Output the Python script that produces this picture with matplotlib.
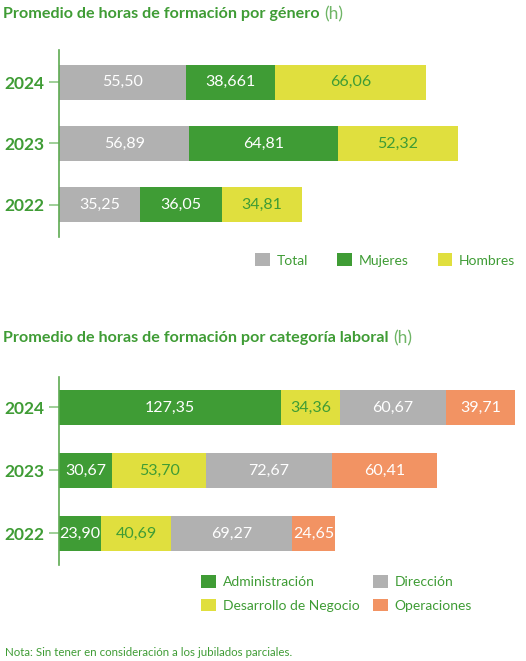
import matplotlib.pyplot as plt

plt.rcParams["font.family"] = ["Lato", "DejaVu Sans"]

# ---------- datos ----------
years = ["2022", "2023", "2024"]

genero_series = ["Total", "Mujeres", "Hombres"]
total = [35.25, 56.89, 55.50]
mujeres = [36.05, 64.81, 38.661]
hombres = [34.81, 52.32, 66.06]
total_lbl = ["35,25", "56,89", "55,50"]
mujeres_lbl = ["36,05", "64,81", "38,661"]
hombres_lbl = ["34,81", "52,32", "66,06"]

cat_series = ["Administración", "Desarrollo de Negocio", "Dirección", "Operaciones"]
administracion = [23.90, 30.67, 127.35]
desarrollo = [40.69, 53.70, 34.36]
direccion = [69.27, 72.67, 60.67]
operaciones = [24.65, 60.41, 39.71]
administracion_lbl = ["23,90", "30,67", "127,35"]
desarrollo_lbl = ["40,69", "53,70", "34,36"]
direccion_lbl = ["69,27", "72,67", "60,67"]
operaciones_lbl = ["24,65", "60,41", "39,71"]

# ---------- estilo ----------
GREEN = "#3f9c35"
GRAY = "#b1b1b1"
YELLOW = "#e0df3e"
ORANGE = "#f29363"
TXT = "#3f9c35"
AXIS = "#5daa52"
TICK = "#8fc786"

W, H = 526, 661
fig = plt.figure(figsize=(W / 100, H / 100), dpi=100)


def px_axes(x0, y0, x1, y1):
    # caja en píxeles (origen arriba a la izquierda)
    return fig.add_axes([x0 / W, 1 - y1 / H, (x1 - x0) / W, (y1 - y0) / H])


def stacked(ax, series, colors, labels, txtcolors, height):
    pos = list(range(len(years)))
    left = [0] * len(years)
    handles = []
    for vals, col, lbls, tc in zip(series, colors, labels, txtcolors):
        bars = ax.barh(pos, vals, left=left, height=height, color=col,
                       edgecolor="none")
        handles.append(bars)
        for p, l, v, s in zip(pos, left, vals, lbls):
            ax.text(l + v / 2, p, s, ha="center", va="center",
                    color=tc, fontsize=11.5)
        left = [a + b for a, b in zip(left, vals)]
    ax.set_yticks(pos)
    ax.set_yticklabels(years, fontsize=12.5, color=TXT, fontweight="bold")
    ax.set_xticks([])
    for s in ["top", "right", "bottom"]:
        ax.spines[s].set_visible(False)
    ax.spines["left"].set_color(AXIS)
    ax.spines["left"].set_linewidth(1.2)
    ax.tick_params(axis="y", length=7.2, width=1.2, color=TICK, pad=3)
    return handles


# ---------- gráfico 1 ----------
ax1 = px_axes(59, 50, 526, 237)
h1 = stacked(ax1, [total, mujeres, hombres], [GRAY, GREEN, YELLOW],
             [total_lbl, mujeres_lbl, hombres_lbl], ["white", "white", TXT],
             35 / 61)
ax1.set_xlim(0, 467 / 2.29)
ax1.set_ylim(-0.525, 2.525)
ax1.legend(h1, genero_series, ncol=3, loc="center left",
           bbox_to_anchor=(255 / W, 1 - 260 / H), bbox_transform=fig.transFigure,
           frameon=False, fontsize=10, labelcolor=TXT, handlelength=1.05,
           handleheight=1.05, handletextpad=0.5, columnspacing=2.1,
           borderaxespad=0, borderpad=0)

# ---------- gráfico 2 ----------
ax2 = px_axes(59, 377, 526, 565)
h2 = stacked(ax2, [administracion, desarrollo, direccion, operaciones],
             [GREEN, YELLOW, GRAY, ORANGE],
             [administracion_lbl, desarrollo_lbl, direccion_lbl, operaciones_lbl],
             ["white", TXT, "white", "white"], 35 / 63)
ax2.set_xlim(0, 467 / 1.74)
ax2.set_ylim(-0.5, 2.484)
ax2.legend(h2, cat_series, ncol=2, loc="upper left",
           bbox_to_anchor=(201 / W, 1 - 575 / H), bbox_transform=fig.transFigure,
           frameon=False, fontsize=10, labelcolor=TXT, handlelength=1.05,
           handleheight=1.05, handletextpad=0.5, columnspacing=1.0,
           labelspacing=0.75, borderaxespad=0, borderpad=0)

# ---------- títulos y nota ----------
t1 = fig.text(3 / W, 1 - 14 / H, "Promedio de horas de formación por género",
              fontsize=11.65, fontweight="bold", color=TXT, va="center", ha="left")
t2 = fig.text(3 / W, 1 - 338 / H,
              "Promedio de horas de formación por categoría laboral",
              fontsize=11.65, fontweight="bold", color=TXT, va="center", ha="left")
fig.canvas.draw()
for t in (t1, t2):
    bb = t.get_window_extent()
    fig.text((bb.x1 + 5) / W, t.get_position()[1], "(h)", fontsize=12.5,
             color="#6fb566", va="center", ha="left")

fig.text(5 / W, 1 - 652 / H,
         "Nota: Sin tener en consideración a los jubilados parciales.",
         fontsize=8.3, color=TXT, va="center", ha="left")

fig.savefig("out.png", dpi=100)
